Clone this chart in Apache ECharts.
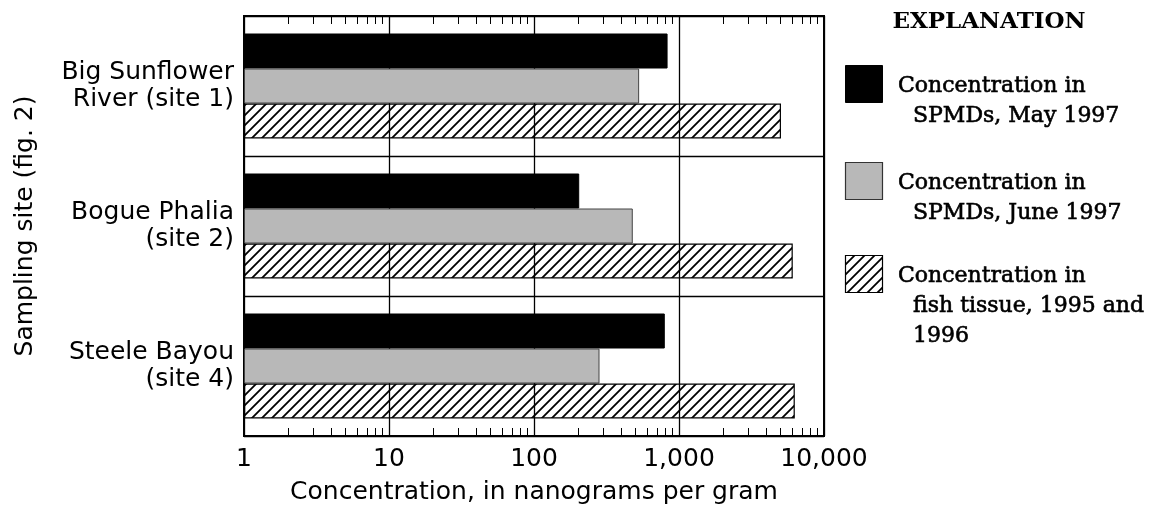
<!DOCTYPE html>
<html>
<head>
<meta charset="utf-8">
<script src="https://cdn.jsdelivr.net/npm/echarts@6/dist/echarts.min.js"></script>
<style>
html,body{margin:0;padding:0;background:#fff;}
#chart{width:1156px;height:510px;}
</style>
</head>
<body>
<div id="chart"></div>
<script>
// ---- data ----
const categories = ['Big Sunflower\nRiver (site 1)', 'Bogue Phalia\n(site 2)', 'Steele Bayou\n(site 4)'];
const seriesNames = ['Concentration in SPMDs, May 1997', 'Concentration in SPMDs, June 1997', 'Concentration in fish tissue, 1995 and 1996'];
const maySPMD = [834, 205, 798];
const juneSPMD = [531, 480, 283];
const fishTissue = [5050, 6090, 6290];
const xTicks = [1, 10, 100, 1000, 10000];
const xTickLabels = ['1', '10', '100', '1,000', '10,000'];
const minorTicks = [2,3,4,5,6,7,8,9, 20,30,40,50,60,70,80,90, 200,300,400,500,600,700,800,900, 2000,3000,4000,5000,6000,7000,8000,9000];
const legendLines = [
  ['Concentration in', 'SPMDs, May 1997'],
  ['Concentration in', 'SPMDs, June 1997'],
  ['Concentration in', 'fish tissue, 1995 and', '1996']
];

function hatchCanvas() {
  const c = document.createElement('canvas');
  c.width = 10; c.height = 10;
  const ctx = c.getContext('2d');
  ctx.strokeStyle = '#000';
  ctx.lineWidth = 1.8;
  ctx.beginPath();
  ctx.moveTo(0, 10); ctx.lineTo(10, 0);
  ctx.moveTo(-3, 3); ctx.lineTo(3, -3);
  ctx.moveTo(7, 13); ctx.lineTo(13, 7);
  ctx.stroke();
  return c;
}
const hatch = hatchCanvas();
const hatchPattern = { image: hatch, repeat: 'repeat' };

const sans = 'DejaVu Sans';
const serif = 'DejaVu Serif';

const chart = echarts.init(document.getElementById('chart'), null, { renderer: 'canvas' });

// legend graphic (explanation)
const swatchTops = [65, 162, 255];
const swatchStyles = [
  { fill: '#000', stroke: '#000', lineWidth: 1 },
  { fill: '#b8b8b8', stroke: '#333', lineWidth: 1.2 },
  { fill: hatchPattern, stroke: '#000', lineWidth: 1.2 }
];
const graphics = [{
  type: 'text', x: 989, y: 22,
  style: { text: 'EXPLANATION', font: 'bold 23px "' + serif + '"', fill: '#000', align: 'center', verticalAlign: 'middle' }
}];
swatchTops.forEach((t, i) => {
  graphics.push({ type: 'rect', shape: { x: 845.5, y: t + 0.5, width: 37, height: 37 }, style: swatchStyles[i] });
  legendLines[i].forEach((line, j) => {
    graphics.push({
      type: 'text', x: j === 0 ? 898 : 913, y: t + 21 + j * 30,
      style: { text: line, font: '22px "' + serif + '"', fill: '#000', stroke: '#000', lineWidth: 0.6, verticalAlign: 'middle' }
    });
  });
});

const option = {
  animation: false,
  backgroundColor: '#fff',
  grid: { left: 244, right: 332, top: 16, bottom: 73, show: true, borderColor: '#000', borderWidth: 2, containLabel: false },
  xAxis: {
    type: 'log', logBase: 10, min: 1, max: 10000,
    name: 'Concentration, in nanograms per gram',
    nameLocation: 'middle', nameGap: 44,
    nameTextStyle: { fontFamily: sans, fontSize: 25, color: '#000' },
    axisLine: { show: false },
    axisTick: { show: false },
    axisLabel: {
      fontFamily: sans, fontSize: 25, color: '#000', margin: 11,
      formatter: v => { const k = xTicks.findIndex(t => Math.abs(t - v) < 1e-6 * t); return k >= 0 ? xTickLabels[k] : ''; }
    },
    splitLine: { show: true, lineStyle: { color: '#000', width: 1.3 } },
    minorTick: { show: false }
  },
  yAxis: {
    type: 'category', inverse: true, data: categories,
    name: 'Sampling site (fig. 2)',
    nameLocation: 'middle', nameGap: 206, nameRotate: 90,
    nameTextStyle: { fontFamily: sans, fontSize: 25, color: '#000' },
    axisLine: { show: false },
    axisTick: { show: false },
    axisLabel: { fontFamily: sans, fontSize: 25, color: '#000', margin: 10, lineHeight: 27, align: 'right' },
    splitLine: { show: true, interval: 0, lineStyle: { color: '#000', width: 1.3 } }
  },
  graphic: graphics,
  series: [
    { name: seriesNames[0], type: 'bar', data: maySPMD, barGap: '0%', barCategoryGap: '25%',
      itemStyle: { color: '#000', borderColor: '#000', borderWidth: 1 } },
    { name: seriesNames[1], type: 'bar', data: juneSPMD,
      itemStyle: { color: '#b8b8b8', borderColor: '#444', borderWidth: 1 } },
    { name: seriesNames[2], type: 'bar', data: fishTissue,
      itemStyle: { color: hatchPattern, borderColor: '#000', borderWidth: 1.2 } },
    { type: 'custom', silent: true, z: 5,
      data: minorTicks.map(v => [v, 0]),
      encode: { x: 0, y: 1 },
      renderItem: (params, api) => {
        const x = Math.round(api.coord([api.value(0), 0])[0]) + 0.5;
        const cs = params.coordSys;
        return { type: 'group', children: [
          { type: 'line', shape: { x1: x, y1: cs.y, x2: x, y2: cs.y + 8 }, style: { stroke: '#000', lineWidth: 1 } },
          { type: 'line', shape: { x1: x, y1: cs.y + cs.height - 8, x2: x, y2: cs.y + cs.height }, style: { stroke: '#000', lineWidth: 1 } }
        ]};
      }
    }
  ]
};
chart.setOption(option);
</script>
</body>
</html>
